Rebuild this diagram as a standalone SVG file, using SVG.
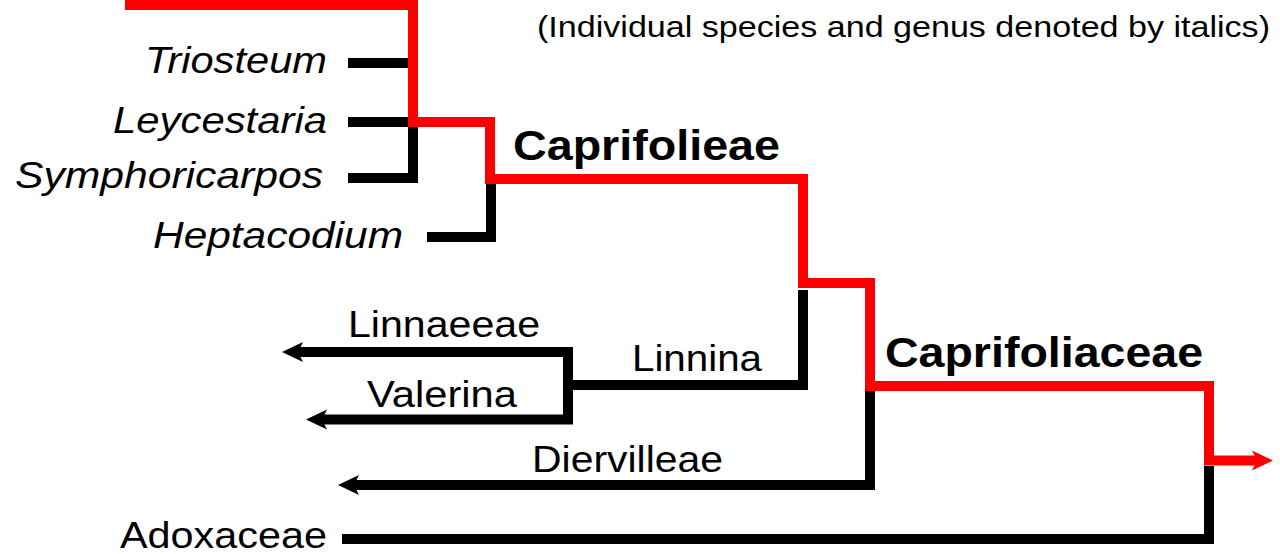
<svg xmlns="http://www.w3.org/2000/svg" width="1280" height="554" viewBox="0 0 1280 554">
  <style>
    .t { font-family: "Liberation Sans", Arial, sans-serif; font-size: 36px; fill: #000; }
    .i { font-style: italic; }
    .b { font-weight: bold; font-size: 43px; }
    .h { font-size: 29px; }
    .k { fill: none; stroke: #000; stroke-width: 10; stroke-linejoin: miter; stroke-linecap: butt; }
    .r { fill: none; stroke: #ff0000; stroke-width: 10; stroke-linejoin: miter; stroke-linecap: butt; }
  </style>
  <defs>
    <marker id="ak" markerUnits="userSpaceOnUse" viewBox="0 -11 22 22" markerWidth="22" markerHeight="22" refX="8" refY="0" orient="auto">
      <path d="M0,-10 L21,0 L0,10 L5,0 Z" fill="#000"/>
    </marker>
    <marker id="ar" markerUnits="userSpaceOnUse" viewBox="0 -11 22 22" markerWidth="22" markerHeight="22" refX="8" refY="0" orient="auto">
      <path d="M0,-10 L21,0 L0,10 L5,0 Z" fill="#ff0000"/>
    </marker>
  </defs>
  <rect width="1280" height="554" fill="#fff"/>

  <g id="connectors">
    <path class="r" d="M125,5 H413 V122 H490 V179 H803 V283 H870 V386 H1209 V460.5 H1260" marker-end="url(#ar)"/>
    <path class="k" d="M348,63 H408"/>
    <path class="k" d="M348,122 H408"/>
    <path class="k" d="M348,178 H413 V127"/>
    <path class="k" d="M427,237 H491 V184"/>
    <path class="k" d="M803,290 V385 H568"/>
    <path class="k" d="M568,347 V419.5"/>
    <path class="k" d="M573,352 H295" marker-end="url(#ak)"/>
    <path class="k" d="M573,419.5 H319" marker-end="url(#ak)"/>
    <path class="k" d="M870,391 V485 H351" marker-end="url(#ak)"/>
    <path class="k" d="M342,539 H1209 V466"/>
  </g>

  <g id="note"><text class="t h" x="537" y="37" textLength="733" lengthAdjust="spacingAndGlyphs">(Individual species and genus denoted by italics)</text></g>
  <g id="triosteum"><text class="t i" x="145" y="73" textLength="182" lengthAdjust="spacingAndGlyphs">Triosteum</text></g>
  <g id="leycestaria"><text class="t i" x="113" y="133" textLength="214" lengthAdjust="spacingAndGlyphs">Leycestaria</text></g>
  <g id="symphoricarpos"><text class="t i" x="15" y="188" textLength="308" lengthAdjust="spacingAndGlyphs">Symphoricarpos</text></g>
  <g id="heptacodium"><text class="t i" x="153" y="248" textLength="250" lengthAdjust="spacingAndGlyphs">Heptacodium</text></g>
  <g id="caprifolieae"><text class="t b" x="513" y="160" textLength="267" lengthAdjust="spacingAndGlyphs">Caprifolieae</text></g>
  <g id="linnaeeae"><text class="t" x="348" y="337" textLength="192" lengthAdjust="spacingAndGlyphs">Linnaeeae</text></g>
  <g id="linnina"><text class="t" x="632" y="371" textLength="130" lengthAdjust="spacingAndGlyphs">Linnina</text></g>
  <g id="valerina"><text class="t" x="367" y="407" textLength="150" lengthAdjust="spacingAndGlyphs">Valerina</text></g>
  <g id="diervilleae"><text class="t" x="532" y="472" textLength="191" lengthAdjust="spacingAndGlyphs">Diervilleae</text></g>
  <g id="caprifoliaceae"><text class="t b" x="885" y="367" textLength="318" lengthAdjust="spacingAndGlyphs">Caprifoliaceae</text></g>
  <g id="adoxaceae"><text class="t" x="120" y="548" textLength="207" lengthAdjust="spacingAndGlyphs">Adoxaceae</text></g>
</svg>
